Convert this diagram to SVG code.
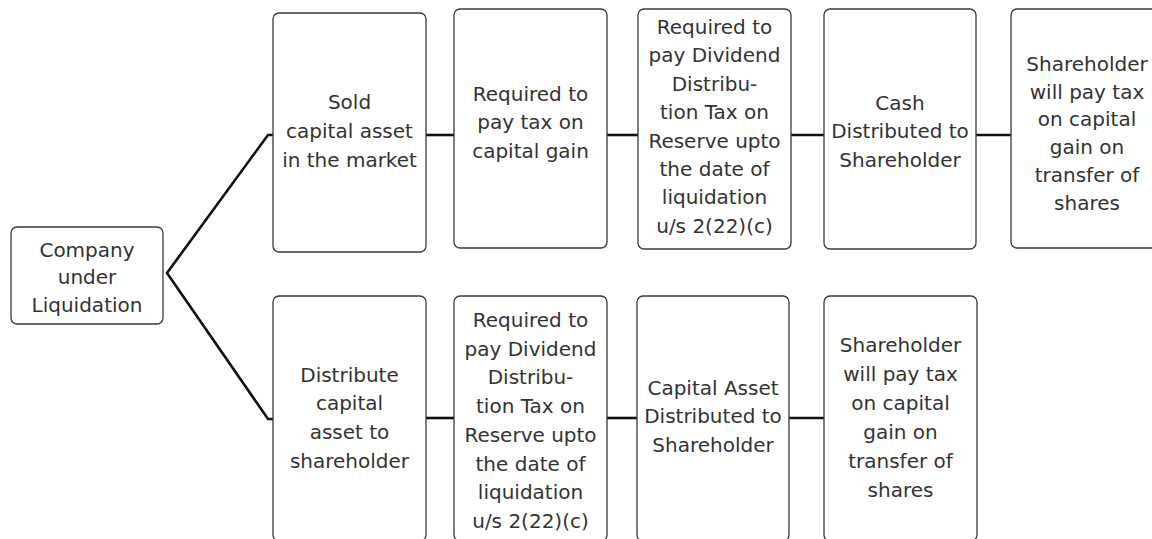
<svg xmlns="http://www.w3.org/2000/svg" width="1152" height="539" viewBox="0 0 1152 539">
<style>
.box{fill:#fff;stroke:#3a3a3a;stroke-width:1.3}
.t{font-family:"DejaVu Sans","Liberation Sans",sans-serif;font-size:20px;fill:#333;text-anchor:middle}
.c{fill:none;stroke:#111;stroke-width:2.6;stroke-linejoin:miter}
</style>
<rect width="1152" height="539" fill="#fff"/>
<g id="connectors">
<polyline class="c" points="273,135 268,135 167,273 268,419 273,419"/>
<line class="c" x1="426" y1="135" x2="454" y2="135"/>
<line class="c" x1="607" y1="135" x2="638" y2="135"/>
<line class="c" x1="791" y1="135" x2="824" y2="135"/>
<line class="c" x1="976" y1="135" x2="1011" y2="135"/>
<line class="c" x1="426" y1="418" x2="454" y2="418"/>
<line class="c" x1="607" y1="418" x2="637" y2="418"/>
<line class="c" x1="789" y1="418" x2="824" y2="418"/>
</g>
<g id="root">
<rect class="box" x="11" y="227" width="152" height="97" rx="6"/>
<text class="t" x="87" y="257">Company</text>
<text class="t" x="87" y="284">under</text>
<text class="t" x="87" y="312">Liquidation</text>
</g>
<g id="t1">
<rect class="box" x="273" y="13" width="153" height="239" rx="6"/>
<text class="t" x="349.5" y="109">Sold</text>
<text class="t" x="349.5" y="138">capital asset</text>
<text class="t" x="349.5" y="167">in the market</text>
</g>
<g id="t2">
<rect class="box" x="454" y="9" width="153" height="239" rx="6"/>
<text class="t" x="530.5" y="101">Required to</text>
<text class="t" x="530.5" y="129">pay tax on</text>
<text class="t" x="530.5" y="158">capital gain</text>
</g>
<g id="t3">
<rect class="box" x="638" y="9" width="153" height="240" rx="6"/>
<text class="t" x="714.5" y="34">Required to</text>
<text class="t" x="714.5" y="62.4">pay Dividend</text>
<text class="t" x="714.5" y="90.8">Distribu-</text>
<text class="t" x="714.5" y="119.2">tion Tax on</text>
<text class="t" x="714.5" y="147.6">Reserve upto</text>
<text class="t" x="714.5" y="176">the date of</text>
<text class="t" x="714.5" y="204.4">liquidation</text>
<text class="t" x="714.5" y="232.8">u/s 2(22)(c)</text>
</g>
<g id="t4">
<rect class="box" x="824" y="9" width="152" height="240" rx="6"/>
<text class="t" x="900" y="110">Cash</text>
<text class="t" x="900" y="138">Distributed to</text>
<text class="t" x="900" y="167">Shareholder</text>
</g>
<g id="t5">
<rect class="box" x="1011" y="9" width="153" height="239" rx="6"/>
<text class="t" x="1087" y="71">Shareholder</text>
<text class="t" x="1087" y="99">will pay tax</text>
<text class="t" x="1087" y="126">on capital</text>
<text class="t" x="1087" y="154">gain on</text>
<text class="t" x="1087" y="182">transfer of</text>
<text class="t" x="1087" y="210">shares</text>
</g>
<g id="b1">
<rect class="box" x="273" y="296" width="153" height="245" rx="6"/>
<text class="t" x="349.5" y="382">Distribute</text>
<text class="t" x="349.5" y="410">capital</text>
<text class="t" x="349.5" y="439">asset to</text>
<text class="t" x="349.5" y="468">shareholder</text>
</g>
<g id="b2">
<rect class="box" x="454" y="296" width="153" height="245" rx="6"/>
<text class="t" x="530.5" y="327">Required to</text>
<text class="t" x="530.5" y="355.7">pay Dividend</text>
<text class="t" x="530.5" y="384.4">Distribu-</text>
<text class="t" x="530.5" y="413.1">tion Tax on</text>
<text class="t" x="530.5" y="441.8">Reserve upto</text>
<text class="t" x="530.5" y="470.5">the date of</text>
<text class="t" x="530.5" y="499.2">liquidation</text>
<text class="t" x="530.5" y="528">u/s 2(22)(c)</text>
</g>
<g id="b3">
<rect class="box" x="637" y="296" width="152" height="245" rx="6"/>
<text class="t" x="713" y="395">Capital Asset</text>
<text class="t" x="713" y="423">Distributed to</text>
<text class="t" x="713" y="452">Shareholder</text>
</g>
<g id="b4">
<rect class="box" x="824" y="296" width="153" height="245" rx="6"/>
<text class="t" x="900.5" y="352">Shareholder</text>
<text class="t" x="900.5" y="381">will pay tax</text>
<text class="t" x="900.5" y="410">on capital</text>
<text class="t" x="900.5" y="439">gain on</text>
<text class="t" x="900.5" y="468">transfer of</text>
<text class="t" x="900.5" y="497">shares</text>
</g>
</svg>
